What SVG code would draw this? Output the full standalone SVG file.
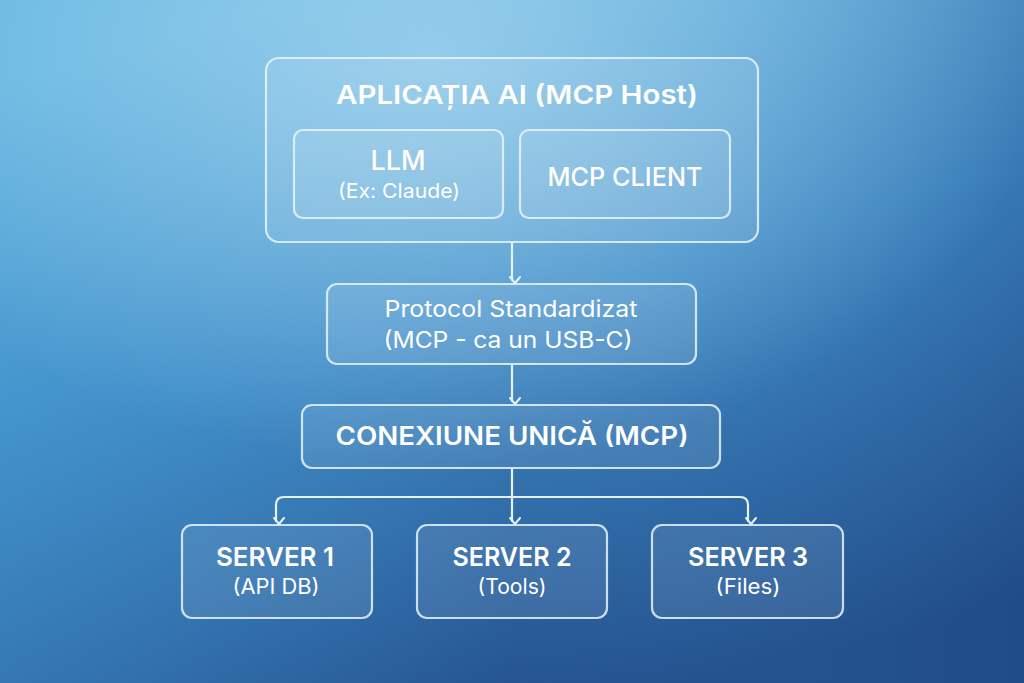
<svg xmlns="http://www.w3.org/2000/svg" width="1024" height="683" viewBox="0 0 1024 683">
<defs>
<linearGradient id="bg" x1="0.3" y1="0" x2="0.7" y2="1">
<stop offset="0" stop-color="#6ab9e2"/>
<stop offset="0.45" stop-color="#3f8ac6"/>
<stop offset="1" stop-color="#214d8a"/>
</linearGradient>
<radialGradient id="glow" cx="0.42" cy="0.08" r="0.6">
<stop offset="0" stop-color="#a6d6ef" stop-opacity="0.75"/>
<stop offset="1" stop-color="#a6d6ef" stop-opacity="0"/>
</radialGradient>
<linearGradient id="shade" x1="0" y1="0" x2="1" y2="0">
<stop offset="0" stop-color="#4aa8dc" stop-opacity="0.25"/>
<stop offset="0.5" stop-color="#4aa8dc" stop-opacity="0"/>
<stop offset="1" stop-color="#1d4680" stop-opacity="0.25"/>
</linearGradient>
<marker id="ah" viewBox="0 0 12 12" refX="6" refY="9" markerWidth="12" markerHeight="12" markerUnits="userSpaceOnUse" orient="auto-start-reverse">
<path d="M1 3 L6 9 L11 3" fill="none" stroke="#e6f2fb" stroke-width="2" stroke-linecap="round" stroke-linejoin="round" transform="rotate(-90 6 6)"/>
</marker>
<style>
.box{fill:#ffffff;fill-opacity:0.09;stroke:#e8f3fb;stroke-opacity:0.85;stroke-width:2.2}
.t{fill:#ffffff;font-family:Inter,"Noto Sans",sans-serif;text-anchor:middle}
.b{font-weight:600}
.m{font-weight:500}
.con{fill:none;stroke:#e6f2fb;stroke-width:2.2;stroke-linecap:round;stroke-linejoin:round}
</style>
</defs>
<rect width="1024" height="683" fill="url(#bg)"/>
<rect width="1024" height="683" fill="url(#shade)"/>
<rect width="1024" height="683" fill="url(#glow)"/>

<g id="host">
<rect class="box" x="266" y="58" width="492" height="184" rx="13"/>
<text class="t b" x="517" y="104" font-size="26" textLength="362" lengthAdjust="spacingAndGlyphs">APLICAȚIA AI (MCP Host)</text>
</g>
<g id="llm">
<rect class="box" x="294" y="130" width="209" height="88" rx="9"/>
<text class="t m" x="398" y="170" font-size="27" textLength="55" lengthAdjust="spacingAndGlyphs">LLM</text>
<text class="t" x="399" y="198" font-size="20" textLength="122" lengthAdjust="spacingAndGlyphs">(Ex: Claude)</text>
</g>
<g id="client">
<rect class="box" x="520" y="130" width="210" height="88" rx="9"/>
<text class="t m" x="625" y="186" font-size="25" textLength="155" lengthAdjust="spacingAndGlyphs">MCP CLIENT</text>
</g>
<g id="protocol">
<rect class="box" x="327" y="284" width="369" height="80" rx="10"/>
<text class="t" x="511" y="317" font-size="23" textLength="253" lengthAdjust="spacingAndGlyphs">Protocol Standardizat</text>
<text class="t" x="508" y="348" font-size="23" textLength="249" lengthAdjust="spacingAndGlyphs">(MCP - ca un USB-C)</text>
</g>
<g id="conexiune">
<rect class="box" x="302" y="405" width="418" height="63" rx="10"/>
<text class="t b" x="512" y="445" font-size="25" textLength="353" lengthAdjust="spacingAndGlyphs">CONEXIUNE UNICĂ (MCP)</text>
</g>
<g id="server1">
<rect class="box" x="182" y="525" width="190" height="93" rx="10"/>
<text class="t b" x="275" y="566" font-size="26" textLength="118" lengthAdjust="spacingAndGlyphs">SERVER 1</text>
<text class="t" x="276" y="594" font-size="21" textLength="87" lengthAdjust="spacingAndGlyphs">(API DB)</text>
</g>
<g id="server2">
<rect class="box" x="417" y="525" width="190" height="93" rx="10"/>
<text class="t b" x="512" y="566" font-size="26" textLength="119" lengthAdjust="spacingAndGlyphs">SERVER 2</text>
<text class="t" x="512" y="594" font-size="21" textLength="69" lengthAdjust="spacingAndGlyphs">(Tools)</text>
</g>
<g id="server3">
<rect class="box" x="652" y="525" width="191" height="93" rx="10"/>
<text class="t b" x="748" y="566" font-size="26" textLength="120" lengthAdjust="spacingAndGlyphs">SERVER 3</text>
<text class="t" x="748" y="594" font-size="21" textLength="65" lengthAdjust="spacingAndGlyphs">(Files)</text>
</g>

<g id="connectors">
<path class="con" d="M512 243 V280" marker-end="url(#ah)"/>
<path class="con" d="M512 365 V401" marker-end="url(#ah)"/>
<path class="con" d="M512 469 V521" marker-end="url(#ah)"/>
<path class="con" d="M512 497 H284 Q276 497 276 505 V521" marker-end="url(#ah)"/>
<path class="con" d="M512 497 H740 Q748 497 748 505 V521" marker-end="url(#ah)"/>
</g>
</svg>
